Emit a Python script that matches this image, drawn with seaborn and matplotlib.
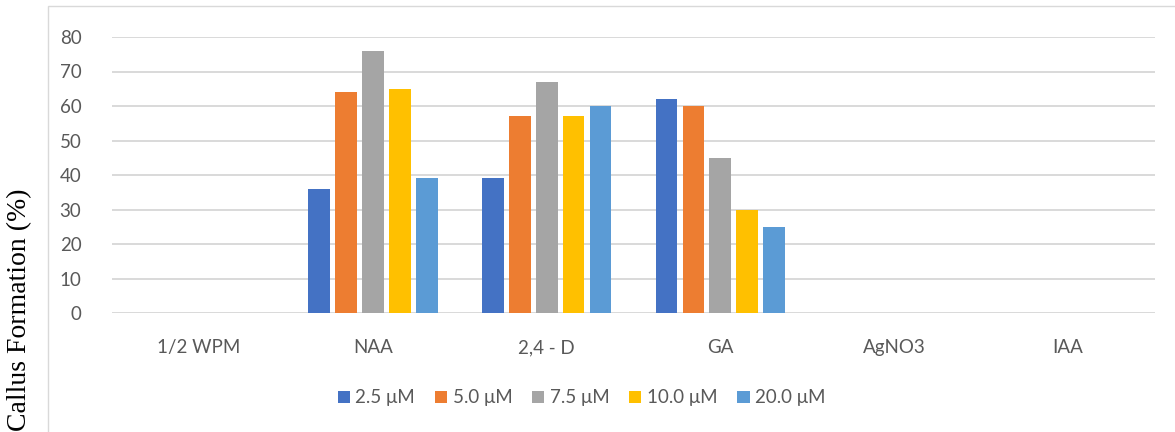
import pandas as pd
import numpy as np
import matplotlib.pyplot as plt
import seaborn as sns
from matplotlib.patches import Rectangle

categories = ["1/2 WPM", "NAA", "2,4 - D", "GA", "AgNO3", "IAA"]
concentrations = ["2.5 μM", "5.0 μM", "7.5 μM", "10.0 μM", "20.0 μM"]
conc_2_5 = [0, 36, 39, 62, 0, 0]
conc_5_0 = [0, 64, 57, 60, 0, 0]
conc_7_5 = [0, 76, 67, 45, 0, 0]
conc_10_0 = [0, 65, 57, 30, 0, 0]
conc_20_0 = [0, 39, 60, 25, 0, 0]
colors = ["#4472C4", "#ED7D31", "#A5A5A5", "#FFC000", "#5B9BD5"]

rows = []
for conc, vals in zip(concentrations, [conc_2_5, conc_5_0, conc_7_5, conc_10_0, conc_20_0]):
    for cat, v in zip(categories, vals):
        rows.append({"Treatment": cat, "Concentration": conc, "Callus": v})
df = pd.DataFrame(rows)

sns.set_style("white")
plt.rcParams['font.family'] = ['Lato', 'DejaVu Sans']

fig = plt.figure(figsize=(11.75, 4.32), dpi=100)
ax = fig.add_axes([112 / 1175, 1 - 313 / 432, (1155 - 112) / 1175, (313 - 37) / 432])

sns.barplot(data=df, x="Treatment", y="Callus", hue="Concentration",
            order=categories, hue_order=concentrations, palette=colors, saturation=1,
            width=0.776, gap=0.19, linewidth=0, errorbar=None, ax=ax, zorder=3)

ax.set_ylim(0, 80)
ax.set_xlim(-0.5, 5.5)
ax.set_yticks(range(0, 81, 10))
ax.yaxis.grid(True, color="#D9D9D9", linewidth=1.4, zorder=0)
ax.set_axisbelow(True)
for s in ax.spines.values():
    s.set_visible(False)
ax.tick_params(axis="both", length=0, labelsize=13.5, labelcolor="#595959")
ax.tick_params(axis="y", pad=22)
ax.tick_params(axis="x", pad=19)
ax.set_xlabel("")
ax.set_ylabel("")

leg = ax.legend(loc="center", bbox_to_anchor=(0.495, 0.079), bbox_transform=fig.transFigure,
                ncol=5, frameon=False, fontsize=13.5, handlelength=0.65, handleheight=0.65,
                handletextpad=0.3, columnspacing=1.05)
for t in leg.get_texts():
    t.set_color("#595959")

# chart area frame
fig.patches.append(Rectangle((48 / 1175, -0.1), 1.2, 1.1 - 6 / 432, transform=fig.transFigure,
                             fill=False, edgecolor="#D9D9D9", linewidth=1.0))

fig.text(20 / 1175, 1 - 310 / 432, "Callus Formation (%)", rotation=90, ha="center", va="center",
         fontsize=20, family=["Liberation Serif", "DejaVu Serif"], color="#000000")

fig.savefig("out.png", dpi=100)
